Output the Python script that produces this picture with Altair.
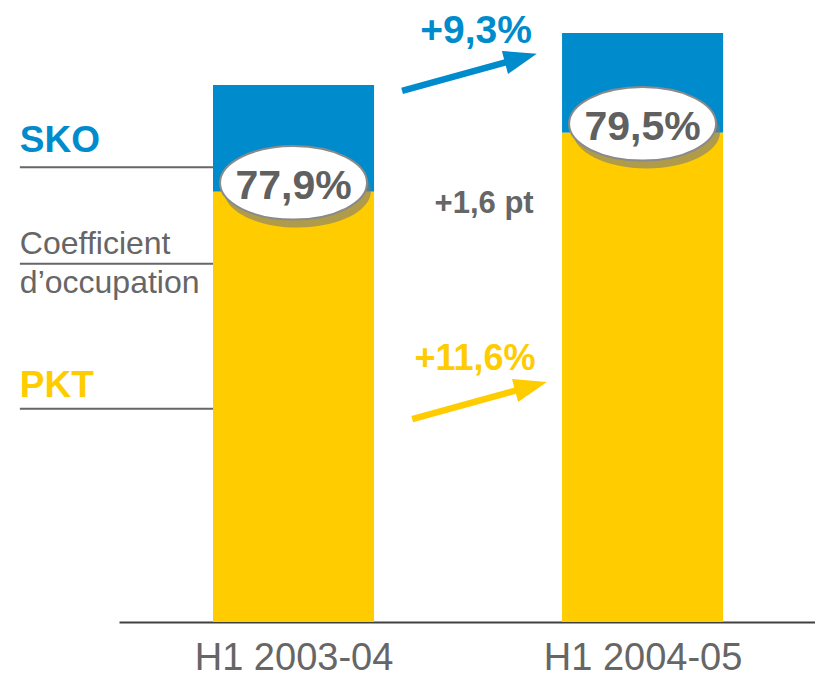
import altair as alt
import pandas as pd

# ---------------- data ----------------
periods = ["H1 2003-04", "H1 2004-05"]
pkt_index = [80.1, 91.1]        # PKT (yellow part), index: SKO H1 2003-04 = 100
sko_index = [100.0, 109.7]      # SKO (whole bar)
load_factor = ["77,9%", "79,5%"]
series = ["SKO", "PKT"]
lf_label = ["Coefficient", "d\u2019occupation"]
growth = ["+9,3%", "+11,6%"]    # SKO growth, PKT growth
lf_change = ["+1,6 pt"]

# ---------------- styling / layout ----------------
BLUE = "#008CCC"
YELLOW = "#FFCC00"
GRAY = "#666666"
FONT = "Liberation Sans"
HALF = 0.2307

xs = alt.Scale(domain=[-0.5, 1.494], nice=False, zero=False)
ys = alt.Scale(domain=[0, 114.34], nice=False, zero=False)

pos = list(range(len(periods)))
bars = pd.DataFrame({
    "pos": pos,
    "x0": [p - HALF for p in pos],
    "x1": [p + HALF for p in pos],
    "pkt": pkt_index,
    "sko": sko_index,
    "zero": [0.0] * len(pos),
    "lf": load_factor,
})

label_expr = "[" + ",".join("'" + p + "'" for p in periods) + "][datum.value]"

x_axis = alt.Axis(values=pos, labelExpr=label_expr, title=None, grid=False,
                  ticks=False, tickSize=0, domain=True, domainColor="#404040",
                  domainWidth=2, labelFont=FONT, labelFontSize=38,
                  labelColor=GRAY, labelPadding=17, labelAngle=0,
                  labelLimit=500, labelOverlap=False)


def X(f):
    return alt.X(f, type="quantitative", scale=xs, axis=x_axis)


def Y(f):
    return alt.Y(f, type="quantitative", scale=ys, axis=None)


base = alt.Chart(bars)

blue_bar = base.mark_rect(color=BLUE).encode(
    x=X("x0"), x2="x1", y=Y("sko"), y2="pkt")
yellow_bar = base.mark_rect(color=YELLOW).encode(
    x=X("x0"), x2="x1", y=Y("pkt"), y2="zero")

ELLIPSE = "M-1,0A1,0.5,0,1,1,1,0A1,0.5,0,1,1,-1,0Z"
shadow = base.mark_point(shape=ELLIPSE, size=21609, filled=True, color="#7a7a7a",
                         opacity=0.6, xOffset=4, yOffset=-1).encode(
    x=X("pos"), y=Y("pkt"))
ellipse = base.mark_point(shape=ELLIPSE, size=21609, filled=True, fill="white",
                          stroke="#8a8a8a", strokeWidth=2, opacity=1,
                          yOffset=-9).encode(x=X("pos"), y=Y("pkt"))
lf_text = base.mark_text(font=FONT, fontSize=41, fontWeight="bold", color="#606060",
                         align="center", baseline="alphabetic", dy=7).encode(
    x=X("pos"), y=Y("pkt"), text="lf:N")

# ---------------- left-hand legend labels ----------------
LX = -0.784
left_bold = pd.DataFrame({"t": series, "x": [LX, LX], "y": [87.5, 41.9],
                          "c": [BLUE, YELLOW]})
left_bold_text = alt.Chart(left_bold).mark_text(
    font=FONT, fontSize=37, fontWeight="bold", align="left",
    baseline="alphabetic").encode(
    x=X("x"), y=Y("y"), text="t:N",
    color=alt.Color("c:N", scale=None))

left_lf = pd.DataFrame({"t": lf_label, "x": [LX, LX], "y": [68.5, 61.3]})
left_lf_text = alt.Chart(left_lf).mark_text(
    font=FONT, fontSize=32, color=GRAY, align="left",
    baseline="alphabetic").encode(x=X("x"), y=Y("y"), text="t:N")

leaders = pd.DataFrame({"x": [LX] * 3, "x2": [-HALF] * 3,
                        "y": [84.7, 66.7, 39.7]})
leader_rules = alt.Chart(leaders).mark_rule(color=GRAY, strokeWidth=2).encode(
    x=X("x"), x2="x2", y=Y("y"))

# ---------------- growth annotations ----------------
growth_df = pd.DataFrame({"t": growth, "x": [0.523, 0.520], "y": [107.8, 46.9],
                          "c": [BLUE, YELLOW], "fs": [39, 36]})
growth_text = alt.Chart(growth_df).mark_text(
    font=FONT, fontWeight="bold", align="center", baseline="alphabetic").encode(
    x=X("x"), y=Y("y"), text="t:N",
    color=alt.Color("c:N", scale=None),
    size=alt.Size("fs:Q", scale=None))

lf_change_df = pd.DataFrame({"t": lf_change, "x": [0.546], "y": [76.2]})
lf_change_text = alt.Chart(lf_change_df).mark_text(
    font=FONT, fontSize=31, fontWeight="bold", color=GRAY, align="center",
    baseline="alphabetic").encode(x=X("x"), y=Y("y"), text="t:N")

# arrows: start -> tip, shaft stops inside the head
arrow_start_x = [0.311, 0.340]
arrow_start_y = [98.9, 37.8]
arrow_tip_x = [0.697, 0.726]
arrow_tip_y = [105.8, 44.7]
T = 0.85
arrows = pd.DataFrame({
    "x": arrow_start_x, "y": arrow_start_y,
    "xe": [a + (b - a) * T for a, b in zip(arrow_start_x, arrow_tip_x)],
    "ye": [a + (b - a) * T for a, b in zip(arrow_start_y, arrow_tip_y)],
    "tx": arrow_tip_x, "ty": arrow_tip_y,
    "c": [BLUE, YELLOW],
})
shafts = alt.Chart(arrows).mark_rule(strokeWidth=6.5).encode(
    x=X("x"), y=Y("y"), x2="xe", y2="ye",
    color=alt.Color("c:N", scale=None))
HEAD = "M0,0L-2,-0.72L-2,0.72Z"
heads = alt.Chart(arrows).mark_point(shape=HEAD, size=1089, filled=True,
                                     opacity=1, angle=345).encode(
    x=X("tx"), y=Y("ty"), color=alt.Color("c:N", scale=None))

chart = alt.layer(
    blue_bar, yellow_bar, shadow, ellipse, lf_text,
    leader_rules, left_bold_text, left_lf_text,
    shafts, heads, growth_text, lf_change_text,
).properties(
    width=696, height=614,
    autosize=alt.AutoSizeParams(type="none"),
    padding={"left": 111, "top": 0, "right": 0, "bottom": 56},
).configure_view(stroke=None)

chart.save("out.html", embed_options={"renderer": "svg", "actions": False})
